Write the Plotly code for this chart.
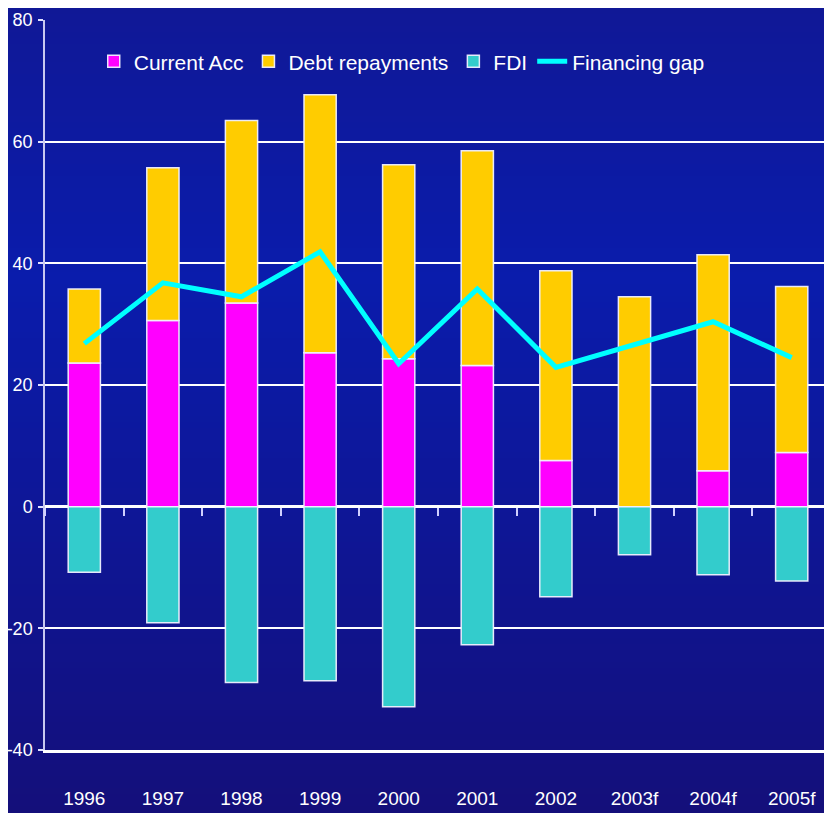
import plotly.graph_objects as go

years = ["1996", "1997", "1998", "1999", "2000", "2001", "2002", "2003f", "2004f", "2005f"]
current_acc = [23.6, 30.6, 33.5, 25.3, 24.3, 23.2, 7.6, 0.0, 5.9, 8.9]
debt_repayments = [12.2, 25.1, 30.0, 42.4, 31.9, 35.3, 31.2, 34.5, 35.5, 27.3]
fdi = [-10.8, -19.1, -28.9, -28.6, -32.9, -22.7, -14.8, -7.9, -11.2, -12.2]
financing_gap = [26.8, 36.8, 34.5, 41.9, 23.5, 35.8, 22.9, 26.6, 30.4, 24.5]
y_ticks = [-40, -20, 0, 20, 40, 60, 80]
y_tick_labels = ["-40", "-20", "0", "20", "40", "60", "80"]

# page has an 8px body margin; size the figure so the plot lands where the reference has it
W, H = 824, 805
ML, MR, MT, MB = 37, 1, 12, 63
FONT = "Liberation Sans, Arial, sans-serif"

fig = go.Figure()
outline = dict(color="rgba(240,240,255,0.95)", width=1.5)
fig.add_trace(go.Bar(x=years, y=current_acc, name="Current Acc",
                     marker=dict(color="#ff00ff", line=outline)))
fig.add_trace(go.Bar(x=years, y=debt_repayments, name="Debt repayments",
                     marker=dict(color="#ffcc00", line=outline)))
fig.add_trace(go.Bar(x=years, y=fdi, name="FDI",
                     marker=dict(color="#33cccc", line=outline)))
fig.add_trace(go.Scatter(x=years, y=financing_gap, name="Financing gap", mode="lines",
                         line=dict(color="#00ffff", width=5)))
# invisible trace to draw boundary ticks on the zero line
fig.add_trace(go.Scatter(x=years, y=[None] * len(years), xaxis="x2", showlegend=False,
                         hoverinfo="skip"))

# gradient background bands (pixel space -> paper)
stops = [(0, (16, 24, 150)), (272, (10, 28, 172)), (512, (14, 22, 150)), (805, (20, 15, 122))]
def col(py):
    for (a, ca), (b, cb) in zip(stops[:-1], stops[1:]):
        if a <= py <= b:
            t = (py - a) / (b - a)
            return tuple(round(ca[i] + (cb[i] - ca[i]) * t) for i in range(3))
    return stops[-1][1]

ph = H - MT - MB
pw = W - ML - MR
shapes = []
step = 6
for py in range(0, H, step):
    y0 = (H - MB - (py + step)) / ph
    y1 = (H - MB - py) / ph
    c = col(py + step / 2)
    shapes.append(dict(type="rect", xref="paper", yref="paper", x0=-ML / pw - 0.01, x1=1 + MR / pw + 0.01,
                       y0=y0, y1=y1, fillcolor="rgb(%d,%d,%d)" % c, line=dict(width=0), layer="below"))

fig.update_layout(
    width=W, height=H,
    margin=dict(l=ML, r=MR, t=MT, b=MB, autoexpand=False),
    paper_bgcolor="rgb(16,22,140)",
    plot_bgcolor="rgba(0,0,0,0)",
    barmode="relative",
    bargap=0.59,
    shapes=shapes,
    font=dict(family=FONT, color="white", size=19),
    showlegend=True,
    legend=dict(orientation="h", x=0.062, xanchor="left", y=0.971, yanchor="top",
                bgcolor="rgba(0,0,0,0)", font=dict(size=21, color="white"),
                itemwidth=30, tracegroupgap=0, traceorder="normal"),
    xaxis=dict(type="category", showgrid=False, showline=True, linecolor="white", linewidth=3,
               ticks="", ticklabelstandoff=29, tickfont=dict(size=19, color="white"),
               range=[-0.5, 9.5], zeroline=False, automargin=False),
    xaxis2=dict(type="category", overlaying="x", anchor="free", position=1 / 3, side="bottom",
                showticklabels=False, ticks="outside", tickson="boundaries", ticklen=8,
                tickwidth=1.5, tickcolor="#d0d0ff", showgrid=False, showline=False,
                range=[-0.5, 9.5], zeroline=False, automargin=False),
    yaxis=dict(range=[-40, 80], tickvals=y_ticks, ticktext=y_tick_labels,
               showgrid=True, gridcolor="white", gridwidth=2,
               zeroline=True, zerolinecolor="white", zerolinewidth=3,
               showline=True, linecolor="#c8c8f0", linewidth=1.5,
               ticks="outside", ticklen=5, tickcolor="#e0e0ff", tickwidth=1.5,
               ticklabelstandoff=2, tickfont=dict(size=18, color="white"), automargin=False),
)

fig.write_html("out.html")
